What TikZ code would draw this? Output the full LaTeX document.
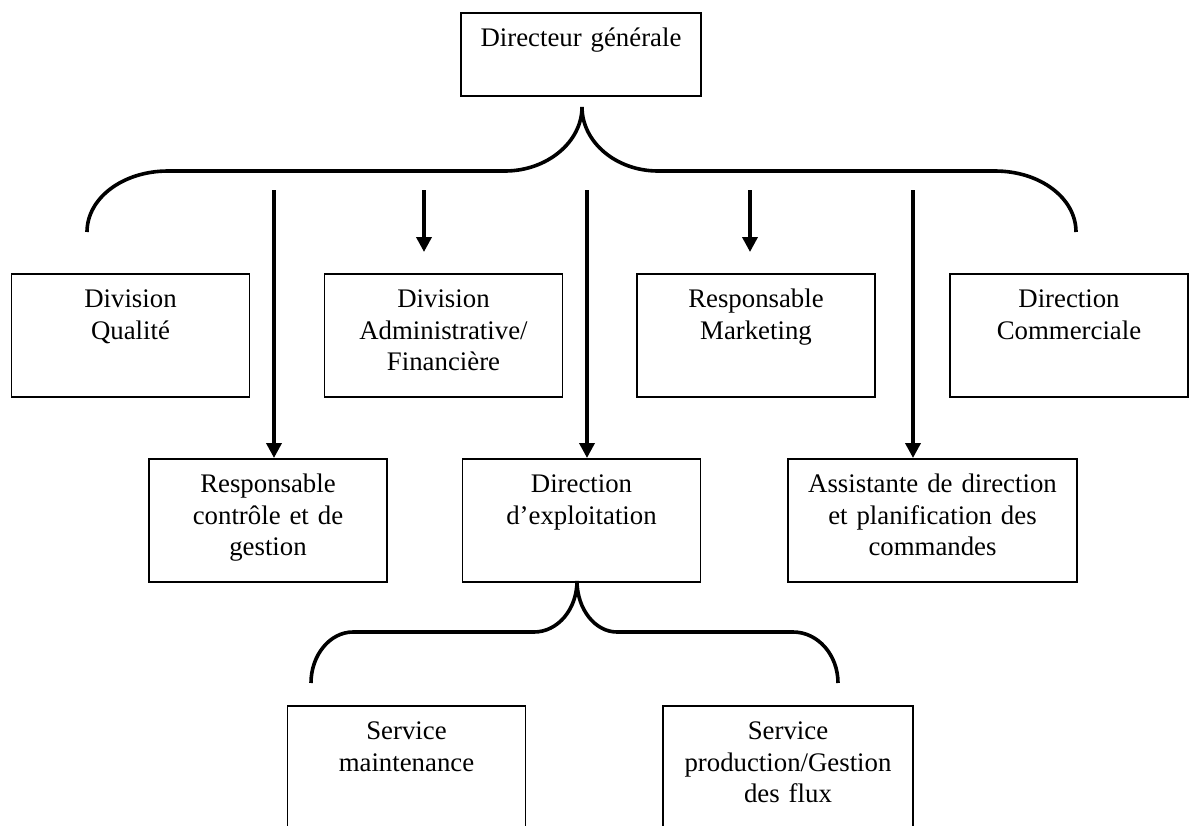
\documentclass[tikz,border=0pt]{standalone}
\usepackage{fontspec}
\setmainfont{Liberation Serif}
\usetikzlibrary{arrows.meta}

\begin{document}
\begin{tikzpicture}[x=0.5pt, y=-0.5pt,
    unit/.style={draw, line width=0.8pt, anchor=north, align=center, text width=119pt,
        inner xsep=0pt, inner ysep=0pt, text height=17pt, text depth=44.5pt,
        font=\fontsize{13.4}{15.75}\selectfont},
    link/.style={line width=1.8pt},
    arr/.style={link, -{Triangle[length=7.5pt, width=7.5pt]}}]
    \useasboundingbox (0,0) rectangle (1189,825);
    \clip (0,0) rectangle (1189,825);

    % direction generale
    \node[unit, text width=120pt, text depth=24.5pt] (dg) at (581,12) {Directeur générale};

    % premier niveau
    \node[unit] (dq) at (130.5,273) {Division\\Qualité};
    \node[unit] (dad) at (443.5,273) {Division\\Administrative/\\Financière};
    \node[unit] (rm) at (756,273) {Responsable\\Marketing};
    \node[unit] (dc) at (1069,273) {Direction\\Commerciale};

    % second niveau
    \node[unit] (rcg) at (268,458) {Responsable\\contrôle et de\\gestion};
    \node[unit] (dex) at (581.5,458) {Direction\\d’exploitation};
    \node[unit, text width=144.5pt] (ad) at (932.5,458) {Assistante de direction\\et planification des\\commandes};

    % services
    \node[unit] (sm) at (406.5,705) {Service\\maintenance};
    \node[unit, text width=125pt] (sp) at (788,705) {Service\\production/Gestion\\des flux};

    % accolade du haut
    \coordinate (b0) at (582,107);
    \coordinate (bl) at (87,232);
    \coordinate (br) at (1076,232);
    \draw[link] (bl) .. controls +(0,-34) and +(-45,0) .. (168,171) -- (505,171)
        .. controls +(42,0) and +(0,35) .. (b0)
        .. controls +(0,35) and +(-42,0) .. (658,171) -- (995,171)
        .. controls +(45,0) and +(0,-34) .. (br);

    % fleches
    \foreach \x [count=\i] in {274,424,587,750,913}
        \coordinate (a\i) at (\x,190);
    \foreach \c/\b/\s in {a1/rcg/0, a2/dad/10.5, a3/dex/0, a4/rm/10.5, a5/ad/0}
        \draw[arr, shorten >=\s pt] (\c) -- (\b.north -| \c);

    % accolade du bas
    \coordinate (c0) at (577,581);
    \coordinate (cl) at (311,683);
    \coordinate (cr) at (838,683);
    \draw[link] (cl) .. controls +(0,-28) and +(-23,0) .. (353,632) -- (534,632)
        .. controls +(24,0) and +(0,28) .. (c0)
        .. controls +(0,28) and +(-22,0) .. (617,632) -- (793,632)
        .. controls +(25,0) and +(0,-28) .. (cr);
\end{tikzpicture}
\end{document}
